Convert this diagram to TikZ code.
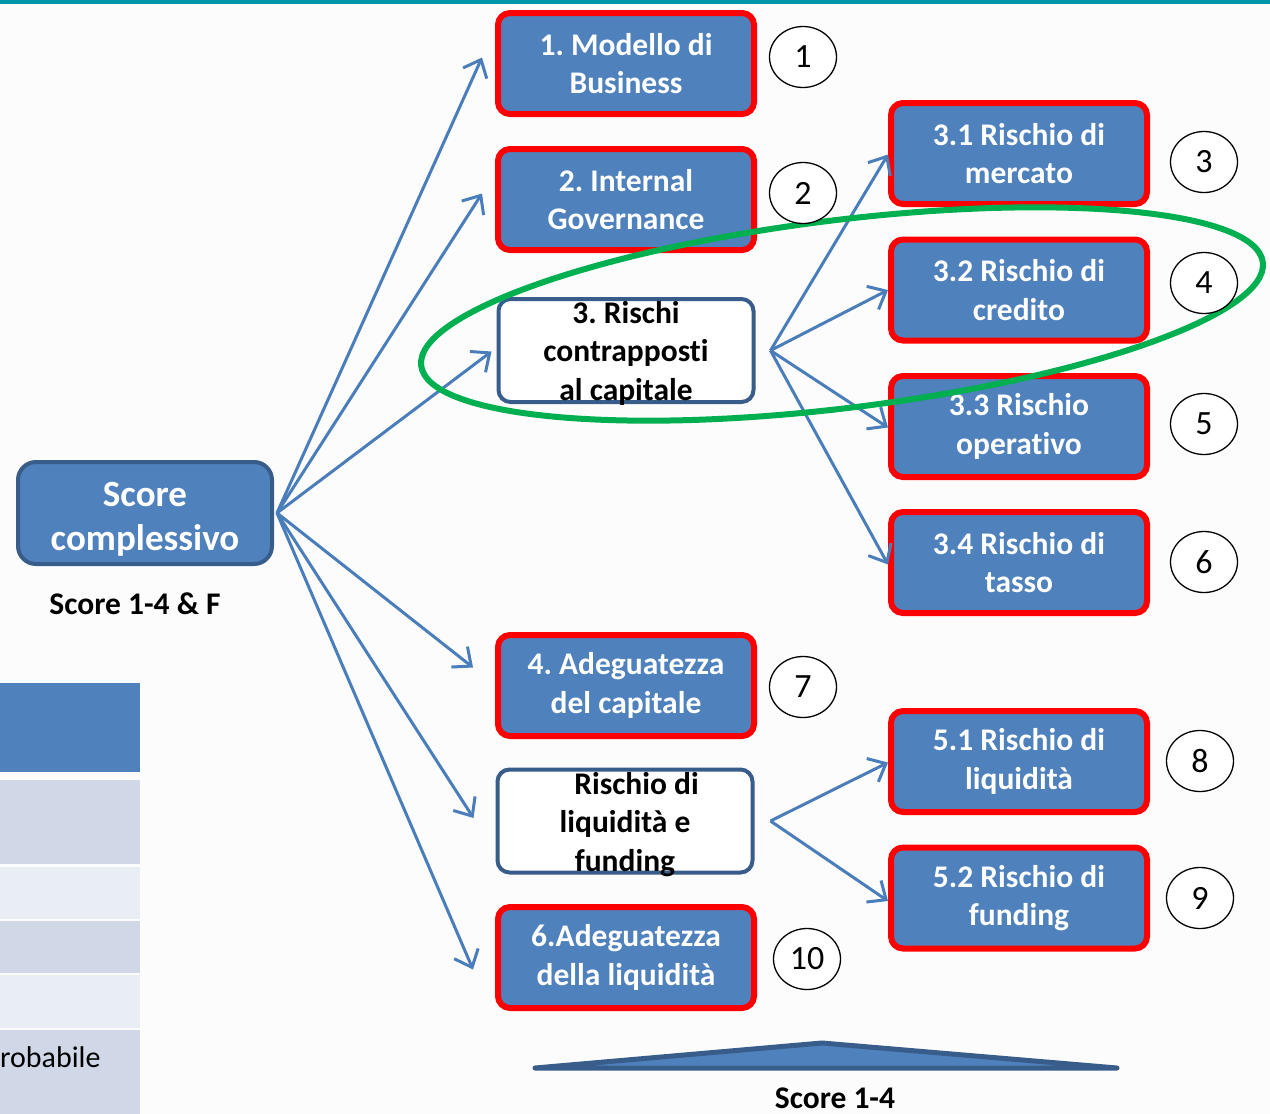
\documentclass[tikz,border=0pt]{standalone}
\usepackage{fontspec}
\setmainfont{Carlito}[Ligatures=NoCommon]
\usetikzlibrary{arrows.meta,shapes.geometric}
\definecolor{blueF}{RGB}{79,129,189}
\definecolor{blueD}{RGB}{56,93,138}
\definecolor{arrowc}{RGB}{74,126,187}
\definecolor{greenE}{RGB}{0,176,80}
\definecolor{tealL}{RGB}{0,150,170}
\definecolor{rowA}{RGB}{208,216,232}
\definecolor{rowB}{RGB}{233,237,244}
\definecolor{bgc}{RGB}{252,252,252}
\frenchspacing
\newcommand{\topstrut}[1]{\rule{0pt}{#1}}
\tikzset{
  boxtext/.style={font=\fontsize{31.5}{38.5}\selectfont\bfseries, align=center},
  redbox/.style={boxtext, fill=blueF, draw=red, line width=6pt, rounded corners=12pt,
    minimum width=256pt, minimum height=101pt, inner sep=0pt, text=white},
  whitebox/.style={fill=white, draw=blueD, line width=4pt, rounded corners=12pt,
    minimum width=255pt, minimum height=103pt, inner sep=0pt},
  whitetext/.style={boxtext, text=black, inner sep=0pt, yshift=-2.5pt},
  numcirc/.style={ellipse, draw=black, line width=1.3pt, fill=white, minimum width=67pt,
    minimum height=61pt, inner sep=0pt, font=\fontsize{34}{34}\selectfont},
  myarrow/.style={draw=arrowc, line width=3pt, -{Straight Barb[length=15pt,width=26pt]}},
  labeltext/.style={font=\fontsize{31.5}{34}\selectfont\bfseries, text=black}
}
\begin{document}
\begin{tikzpicture}[x=1pt,y=-1pt]
\useasboundingbox (0,0) rectangle (1270,1114);
\fill[bgc] (0,0) rectangle (1270,1114);
\fill[tealL] (0,0) rectangle (1270,3.5);

% left table
\fill[blueF] (0,683) rectangle (140,772);
\fill[rowA] (0,780) rectangle (140,864);
\fill[rowB] (0,866.5) rectangle (140,918.5);
\fill[rowA] (0,921) rectangle (140,972.5);
\fill[rowB] (0,975) rectangle (140,1027.5);
\fill[rowA] (0,1030) rectangle (140,1114);
\node[anchor=west, inner sep=0pt, font=\fontsize{30}{34}\selectfont] (tbl) at (0,1057) {robabile};

% main score
\node[boxtext, fill=blueF, draw=blueD, line width=4pt, rounded corners=18pt,
  minimum width=254pt, minimum height=102pt, inner sep=0pt, text=white,
  font=\fontsize{37}{44}\selectfont\bfseries] (score) at (145,513) {\topstrut{36pt}Score\\complessivo};
\node[labeltext] (scorelab) at (135,604) {Score 1-4 \& F};

% first level
\node[redbox] (b1) at (626,63.5) {1. Modello di\\Business};
\node[redbox] (b2) at (626,199.5) {2. Internal\\Governance};
\node[whitebox] (b3) at (626,350.5) {};
\node[whitetext] (b3t) at (b3.center) {3. Rischi\\contrapposti\\al capitale};
\node[redbox] (b4) at (626,685.5) {4. Adeguatezza\\del capitale};
\node[whitebox] (b5) at (625,821) {};
\node[whitetext, yshift=-1pt] (b5t) at (b5.center) {{\color{white}5} Rischio di\\liquidità e\\funding};
\node[redbox] (b6) at (626,957.5) {6.Adeguatezza\\della liquidità};

% second level
\node[redbox] (r31) at (1019,153.5) {3.1 Rischio di\\mercato};
\node[redbox] (r32) at (1019,290) {3.2 Rischio di\\credito};
\node[redbox] (r33) at (1019,426.5) {3.3 Rischio\\operativo};
\node[redbox] (r34) at (1019,562.5) {3.4 Rischio di\\tasso};
\node[redbox] (r51) at (1019,761.5) {5.1 Rischio di\\liquidità};
\node[redbox] (r52) at (1019,898) {5.2 Rischio di\\funding};

% arrow end points
\coordinate (s0) at ([xshift=3pt]score.east);
\coordinate (e1) at ([xshift=-13pt,yshift=6pt]b1.west);
\coordinate (e2) at ([xshift=-13pt,yshift=6pt]b2.west);
\coordinate (e3) at ([xshift=-5pt,yshift=-1pt]b3.west);
\coordinate (e4) at ([xshift=-22pt,yshift=18pt]b4.west);
\coordinate (e5) at ([xshift=-22pt,yshift=3pt]b5.west);
\coordinate (e6) at ([xshift=-22pt,yshift=-12pt]b6.west);
\coordinate (s3) at ([xshift=15pt]b3.east);
\coordinate (s5) at ([xshift=16pt]b5.east);

\draw[myarrow] (s0) -- (e1);
\draw[myarrow] (s0) -- (e2);
\draw[myarrow] (s0) -- (e3);
\draw[myarrow] (s0) -- (e4);
\draw[myarrow] (s0) -- (e5);
\draw[myarrow] (s0) -- (e6);

\draw[myarrow] (s3) -- ([yshift=-1pt]r31.west);
\draw[myarrow] (s3) -- (r32.west);
\draw[myarrow] (s3) -- ([yshift=-1pt]r33.west);
\draw[myarrow] (s3) -- ([yshift=-2pt]r34.west);
\draw[myarrow] (s5) -- ([yshift=-1pt]r51.west);
\draw[myarrow] (s5) -- ([yshift=-3pt]r52.west);

% green ellipse
\draw[greenE, line width=6pt, rotate around={7:(842,314)}] (842,314) ellipse [x radius=424pt, y radius=94pt];

% numbered circles
\node[numcirc] (c1) at (803,57) {1};
\node[numcirc] (c2) at (803,193) {2};
\node[numcirc] (c3) at (1204,162) {3};
\node[numcirc] (c4) at (1204,283) {4};
\node[numcirc] (c5) at (1204,424) {5};
\node[numcirc] (c6) at (1204,562) {6};
\node[numcirc] (c7) at (803,687) {7};
\node[numcirc] (c8) at (1200,761) {8};
\node[numcirc] (c9) at (1200,898) {9};
\node[numcirc] (c10) at (807,959) {10};

% bottom triangle
\draw[fill=blueF, draw=blueD, line width=5pt, line join=round, line cap=round]
  (535,1068) coordinate (t1) -- (822,1043) coordinate (t2) -- (1117,1068) coordinate (t3) -- cycle;
\node[labeltext] (scorelab2) at (835,1098) {Score 1-4};
\end{tikzpicture}
\end{document}
